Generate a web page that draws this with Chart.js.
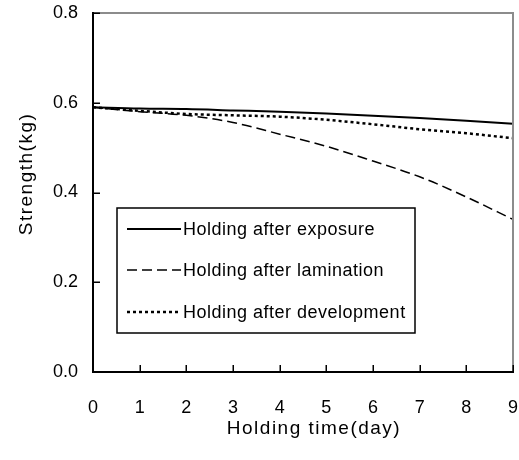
<!DOCTYPE html>
<html>
<head>
<meta charset="utf-8">
<script src="https://cdn.jsdelivr.net/npm/chart.js@4/dist/chart.umd.min.js"></script>
<style>
  html, body { margin: 0; padding: 0; background: #fff; }
  #wrap { width: 519px; height: 460px; position: relative; }
</style>
</head>
<body>
<div id="wrap"><canvas id="c" width="519" height="460"></canvas></div>
<script>
// Holding time in days
const days = [0, 1, 2, 3, 4, 5, 6, 7, 8, 9];
// Strength (kg) for each holding condition
const afterExposure    = [0.590, 0.587, 0.586, 0.583, 0.580, 0.576, 0.571, 0.566, 0.560, 0.553];
const afterLamination  = [0.590, 0.580, 0.572, 0.556, 0.530, 0.503, 0.470, 0.435, 0.390, 0.340];
const afterDevelopment = [0.590, 0.582, 0.575, 0.572, 0.569, 0.562, 0.552, 0.541, 0.532, 0.521];
const seriesNames = ['Holding after exposure', 'Holding after lamination', 'Holding after development'];
const yTicks = [0, 0.2, 0.4, 0.6, 0.8];
const xTitle = 'Holding time(day)';
const yTitle = 'Strength(kg)';

const FONT = '"Liberation Sans", Arial, sans-serif';

function pts(vals) { return days.map((d, i) => ({ x: d, y: vals[i] })); }

function noPad(s) { s.paddingLeft = 0; s.paddingRight = 0; s.paddingTop = 0; s.paddingBottom = 0; }

const decor = {
  id: 'decor',
  afterDraw(chart) {
    const { ctx, chartArea: a, scales } = chart;
    const xs = scales.x, ys = scales.y;
    ctx.save();
    // top and right frame
    ctx.strokeStyle = '#8c8c8c';
    ctx.lineWidth = 2;
    ctx.beginPath();
    ctx.moveTo(a.left, a.top); ctx.lineTo(a.right, a.top); ctx.lineTo(a.right, a.bottom);
    ctx.stroke();
    // left and bottom axes
    ctx.strokeStyle = '#000';
    ctx.beginPath();
    ctx.moveTo(a.left, a.top - 1); ctx.lineTo(a.left, a.bottom); ctx.lineTo(a.right + 1, a.bottom);
    ctx.stroke();
    // inward tick marks
    ctx.lineWidth = 1.5;
    ctx.beginPath();
    yTicks.forEach(v => {
      const y = Math.round(ys.getPixelForValue(v)) + 0.25;
      ctx.moveTo(a.left, y); ctx.lineTo(a.left + 7, y);
    });
    days.forEach(d => {
      const x = Math.round(xs.getPixelForValue(d)) + 0.25;
      ctx.moveTo(x, a.bottom); ctx.lineTo(x, a.bottom - 7);
    });
    ctx.stroke();

    // axis titles
    ctx.fillStyle = '#000';
    ctx.font = '19px ' + FONT;
    ctx.letterSpacing = '1.5px';
    ctx.textAlign = 'center';
    ctx.textBaseline = 'middle';
    ctx.fillText(xTitle, 314, 429);
    ctx.save();
    ctx.translate(27, 174);
    ctx.rotate(-Math.PI / 2);
    ctx.fillText(yTitle, 0, 0);
    ctx.restore();

    // legend box
    const bx = 117, by = 208, bw = 298, bh = 125;
    ctx.fillStyle = '#fff';
    ctx.fillRect(bx, by, bw, bh);
    ctx.strokeStyle = '#000';
    ctx.lineWidth = 1.5;
    ctx.strokeRect(bx, by, bw, bh);
    const rows = [229, 270, 312];
    chart.data.datasets.forEach((ds, i) => {
      const y = rows[i];
      ctx.save();
      ctx.strokeStyle = ds.borderColor;
      ctx.lineWidth = ds.borderWidth;
      ctx.setLineDash(ds.borderDash || []);
      ctx.beginPath();
      ctx.moveTo(127, y); ctx.lineTo(181, y);
      ctx.stroke();
      ctx.restore();
      ctx.fillStyle = '#000';
      ctx.font = '18px ' + FONT;
      ctx.letterSpacing = '0.5px';
      ctx.textAlign = 'left';
      ctx.textBaseline = 'middle';
      ctx.fillText(ds.label, 183, y + 1);
    });
    ctx.restore();
  }
};

new Chart(document.getElementById('c'), {
  type: 'line',
  data: {
    datasets: [
      { label: seriesNames[0], data: pts(afterExposure), borderColor: '#000', borderWidth: 2, pointRadius: 0, fill: false },
      { label: seriesNames[1], data: pts(afterLamination), borderColor: '#000', borderWidth: 1.5, borderDash: [10, 5], pointRadius: 0, fill: false },
      { label: seriesNames[2], data: pts(afterDevelopment), borderColor: '#000', borderWidth: 2.5, borderDash: [3, 3], pointRadius: 0, fill: false }
    ]
  },
  options: {
    responsive: false,
    animation: false,
    layout: { padding: { top: 13, right: 6, left: 0, bottom: 0 } },
    plugins: { legend: { display: false }, tooltip: { enabled: false } },
    elements: { line: { tension: 0.3, cubicInterpolationMode: 'monotone' } },
    scales: {
      x: {
        type: 'linear', min: 0, max: 9,
        grid: { display: false, drawTicks: false },
        border: { display: false },
        ticks: { stepSize: 1, color: '#000', font: { family: FONT, size: 18 }, padding: 25, maxRotation: 0, autoSkip: false },
        afterFit(s) { s.height = 88; noPad(s); }
      },
      y: {
        min: 0, max: 0.8,
        grid: { display: false, drawTicks: false },
        border: { display: false },
        ticks: { stepSize: 0.2, color: '#000', font: { family: FONT, size: 18 }, padding: 15,
                 callback: v => Number(v).toFixed(1) },
        afterFit(s) { s.width = 93; noPad(s); }
      }
    }
  },
  plugins: [decor]
});
</script>
</body>
</html>
